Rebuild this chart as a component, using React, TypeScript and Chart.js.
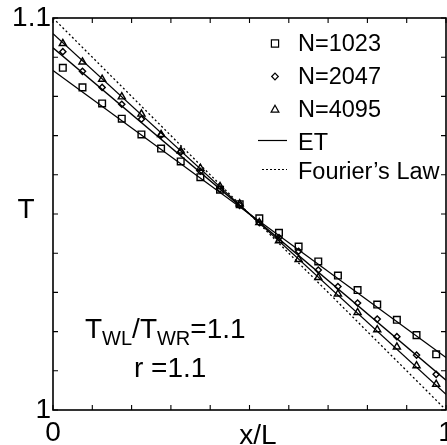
import React, { useEffect, useRef } from 'react';
import { Chart, registerables } from 'chart.js';

Chart.register(...registerables);

// ---- data ----
const xPositions = [0.025, 0.075, 0.125, 0.175, 0.225, 0.275, 0.325, 0.375, 0.425, 0.475,
  0.525, 0.575, 0.625, 0.675, 0.725, 0.775, 0.825, 0.875, 0.925, 0.975];
const tN1023 = [1.0873, 1.0823, 1.0782, 1.0743, 1.0703, 1.0667, 1.0634, 1.0594, 1.0562, 1.0525,
  1.0489, 1.0452, 1.0417, 1.0379, 1.0343, 1.0306, 1.0269, 1.0230, 1.0191, 1.0142];
const tN2047 = [1.0914, 1.0864, 1.0823, 1.0780, 1.0742, 1.0701, 1.0658, 1.0609, 1.0564, 1.0522,
  1.0478, 1.0440, 1.0405, 1.0357, 1.0315, 1.0273, 1.0232, 1.0187, 1.0140, 1.0091];
const tN4095 = [1.0935, 1.0888, 1.0844, 1.0799, 1.0755, 1.0703, 1.0661, 1.0617, 1.0570, 1.0526,
  1.0478, 1.0432, 1.0384, 1.0338, 1.0296, 1.0249, 1.0205, 1.0161, 1.0113, 1.0066];
const lineX = [0, 1];
const et1023 = [1.0866, 1.0134];
const et2047 = [1.0924, 1.0076];
const et4095 = [1.0960, 1.0040];
const fourierT = [1.1, 1.0];
const legendLabels = ['N=1023', 'N=2047', 'N=4095', 'ET', 'Fourier\u2019s Law'];
const xTickLabels: [number, string][] = [[0, '0'], [1, '1']];
const yTickLabels: [number, string][] = [[1, '1'], [1.1, '1.1']];
const xTitle = 'x/L';
const yTitle = 'T';
const annotation1 = [
  { t: 'T', sub: false }, { t: 'WL', sub: true }, { t: '/', sub: false },
  { t: 'T', sub: false }, { t: 'WR', sub: true }, { t: '=1.1', sub: false },
];
const annotation2 = 'r =1.1';

const FONT = '"Liberation Sans", Arial, Helvetica, sans-serif';

const pts = (xs: number[], ys: number[]) => xs.map((x, i) => ({ x, y: ys[i] }));

function labelFor(list: [number, string][], v: number) {
  for (const [val, txt] of list) if (Math.abs(v - val) < 1e-9) return txt;
  return '';
}

function drawMarker(ctx: CanvasRenderingContext2D, style: string, x: number, y: number) {
  ctx.beginPath();
  if (style === 'rect') {
    ctx.rect(x - 3.6, y - 3.6, 7.2, 7.2);
  } else if (style === 'rectRot') {
    ctx.moveTo(x - 3.3, y); ctx.lineTo(x, y - 3.3); ctx.lineTo(x + 3.3, y); ctx.lineTo(x, y + 3.3); ctx.closePath();
  } else {
    ctx.moveTo(x, y - 4.2); ctx.lineTo(x + 3.9, y + 2.6); ctx.lineTo(x - 3.9, y + 2.6); ctx.closePath();
  }
  ctx.stroke();
}

const framePlugin = {
  id: 'frame',
  afterDraw(chart: any) {
    const { ctx, chartArea: a, scales } = chart;
    ctx.save();
    ctx.strokeStyle = '#000';
    ctx.lineWidth = 1.6;
    ctx.strokeRect(a.left, a.top, a.right - a.left, a.bottom - a.top);
    ctx.lineWidth = 1.1;
    const tl = 5;
    scales.x.ticks.forEach((t: any) => {
      const px = scales.x.getPixelForValue(t.value);
      ctx.beginPath();
      ctx.moveTo(px, a.bottom); ctx.lineTo(px, a.bottom - tl);
      ctx.moveTo(px, a.top); ctx.lineTo(px, a.top + tl);
      ctx.stroke();
    });
    scales.y.ticks.forEach((t: any) => {
      const py = scales.y.getPixelForValue(t.value);
      ctx.beginPath();
      ctx.moveTo(a.left, py); ctx.lineTo(a.left + tl, py);
      ctx.moveTo(a.right, py); ctx.lineTo(a.right - tl, py);
      ctx.stroke();
    });

    // axis titles
    ctx.fillStyle = '#000';
    ctx.font = `28px ${FONT}`;
    ctx.textAlign = 'center';
    ctx.textBaseline = 'alphabetic';
    ctx.fillText(xTitle, 258, 444);
    ctx.fillText(yTitle, 26, 218);

    // legend
    const styles = ['rect', 'rectRot', 'triangle'];
    const rowsY = [43.5, 76.5, 109.5, 142.5, 172];
    const lineY = [0, 0, 0, 140.5, 169.5];
    const mx = 275;
    ctx.font = `23.5px ${FONT}`;
    ctx.textAlign = 'left';
    ctx.textBaseline = 'middle';
    ctx.lineWidth = 1.2;
    legendLabels.forEach((lbl, i) => {
      const y = rowsY[i];
      if (i < 3) {
        drawMarker(ctx, styles[i], mx, y);
      } else {
        ctx.beginPath();
        if (i === 4) ctx.setLineDash([2, 2]);
        ctx.moveTo(i === 4 ? 262 : 258, lineY[i]);
        ctx.lineTo(287, lineY[i]);
        ctx.stroke();
        ctx.setLineDash([]);
      }
      ctx.fillText(lbl, 298, y + 1);
    });

    // annotations
    ctx.textBaseline = 'alphabetic';
    let x = 85;
    annotation1.forEach((p) => {
      ctx.font = p.sub ? `20px ${FONT}` : `28px ${FONT}`;
      ctx.fillText(p.t, x, p.sub ? 345 : 338);
      x += ctx.measureText(p.t).width;
    });
    ctx.font = `28px ${FONT}`;
    ctx.fillText(annotation2, 134, 377);
    ctx.restore();
  },
};

export default function App() {
  const ref = useRef<HTMLCanvasElement>(null);
  useEffect(() => {
    if (!ref.current) return;
    const markerBase = {
      showLine: false,
      borderColor: '#000',
      backgroundColor: 'rgba(0,0,0,0)',
      borderWidth: 1.4,
    };
    const lineBase = {
      showLine: true,
      borderColor: '#000',
      borderWidth: 1.3,
      pointRadius: 0,
      fill: false,
    };
    const chart = new Chart(ref.current, {
      type: 'scatter',
      data: {
        datasets: [
          { ...markerBase, label: legendLabels[0], data: pts(xPositions, tN1023), pointStyle: 'rect', pointRadius: 4.7 },
          { ...markerBase, label: legendLabels[1], data: pts(xPositions, tN2047), pointStyle: 'rectRot', pointRadius: 3.1 },
          { ...markerBase, label: legendLabels[2], data: pts(xPositions, tN4095), pointStyle: 'triangle', pointRadius: 4.1 },
          { ...lineBase, label: 'ET 1023', data: pts(lineX, et1023) },
          { ...lineBase, label: 'ET 2047', data: pts(lineX, et2047) },
          { ...lineBase, label: 'ET 4095', data: pts(lineX, et4095) },
          { ...lineBase, label: legendLabels[4], data: pts(lineX, fourierT), borderWidth: 1.3, borderDash: [2, 2.5] },
        ] as any,
      },
      options: {
        responsive: false,
        animation: false,
        layout: { autoPadding: false, padding: { top: 18, right: 1, left: 0, bottom: 0 } },
        plugins: { legend: { display: false }, tooltip: { enabled: false } },
        scales: {
          x: {
            type: 'linear', min: 0, max: 1,
            grid: { display: false, drawTicks: false },
            border: { display: false },
            ticks: {
              stepSize: 0.1, autoSkip: false, maxRotation: 0, padding: 6, color: '#000',
              font: { size: 28, family: FONT },
              callback: (v: any) => labelFor(xTickLabels, Number(v)),
            },
            afterFit: (s: any) => { s.height = 35; s.paddingLeft = 0; s.paddingRight = 0; },
          },
          y: {
            type: 'linear', min: 1, max: 1.1,
            grid: { display: false, drawTicks: false },
            border: { display: false },
            ticks: {
              stepSize: 0.01, autoSkip: false, padding: 2, color: '#000',
              font: { size: 28, family: FONT },
              callback: (v: any) => labelFor(yTickLabels, Number(v)),
            },
            afterFit: (s: any) => { s.width = 53; s.paddingTop = 0; s.paddingBottom = 0; },
          },
        } as any,
      },
      plugins: [framePlugin],
    });
    return () => chart.destroy();
  }, []);
  return (
    <div style={{ position: 'absolute', left: 0, top: 0, width: 447, height: 445 }}>
      <canvas ref={ref} width={447} height={445} style={{ display: 'block' }} />
    </div>
  );
}
